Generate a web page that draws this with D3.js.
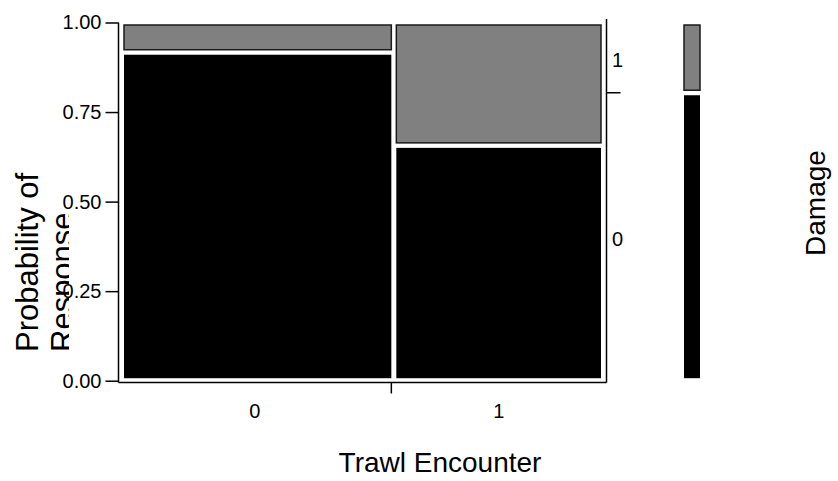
<!DOCTYPE html>
<html>
<head>
<meta charset="utf-8">
<script src="https://cdn.jsdelivr.net/npm/d3@7"></script>
<style>
  body { margin: 0; background: #fff; }
  text { font-family: "Liberation Sans", Arial, Helvetica, sans-serif; fill: #000; }
</style>
</head>
<body>
<div id="chart"></div>
<script>
// mosaic data
const encounterLevels = ["0", "1"]
const encounterShare = [0.565, 0.435]
const damageLevels = ["0", "1"]
const probDamage0 = [0.917, 0.657]
const yTicks = [0, 0.25, 0.5, 0.75, 1]
const damageColors = { "0": "#000000", "1": "#808080" }

const width = 838, height = 481

const svg = d3.select("#chart")
  .append("svg")
  .attr("width", width)
  .attr("height", height)

const y = d3.scaleLinear().domain([0, 1]).range([380.7, 22.5])
const x = d3.scaleLinear().domain([0, 1]).range([121.5, 603.5])
const inset = 2.5

// columns -> stacked cells
const starts = d3.cumsum([0, ...encounterShare])
const cells = []
encounterLevels.forEach((lvl, i) => {
  const x0 = starts[i], x1 = starts[i] + encounterShare[i]
  cells.push({ lvl, damage: damageLevels[0], x0, x1, y0: 0, y1: probDamage0[i] })
  cells.push({ lvl, damage: damageLevels[1], x0, x1, y0: probDamage0[i], y1: 1 })
})
const overall0 = d3.sum(encounterShare.map((s, i) => s * probDamage0[i]))

svg.append("g")
  .selectAll("rect")
  .data(cells)
  .join("rect")
  .attr("x", d => x(d.x0) + inset)
  .attr("width", d => x(d.x1) - x(d.x0) - 2 * inset)
  .attr("y", d => y(d.y1) + inset)
  .attr("height", d => y(d.y0) - y(d.y1) - 2 * inset)
  .attr("fill", d => damageColors[d.damage])
  .attr("stroke", d => d.damage === "1" ? "#1a1a1a" : "none")
  .attr("stroke-width", 1.5)

// left axis
const axisX = 118.5
const yAxis = svg.append("g")
  .attr("transform", `translate(${axisX},0)`)
  .call(d3.axisLeft(y).tickValues(yTicks).tickFormat(d3.format(".2f")).tickSize(13).tickSizeOuter(0).tickPadding(4))
yAxis.select(".domain").remove()
yAxis.selectAll("line").attr("stroke", "#000").attr("stroke-width", 1.5)
yAxis.selectAll("text").attr("font-size", 20).style("font-family", '"Liberation Sans", Arial, sans-serif')

const baseY = 382.5, rightX = 606.5
svg.append("line")
  .attr("x1", axisX).attr("x2", axisX).attr("y1", y(1)).attr("y2", baseY)
  .attr("stroke", "#000").attr("stroke-width", 1.5)

// bottom axis
const splitX = x(starts[1]) - inset
svg.append("line")
  .attr("x1", axisX).attr("x2", rightX).attr("y1", baseY).attr("y2", baseY)
  .attr("stroke", "#000").attr("stroke-width", 1.5)
svg.append("line")
  .attr("x1", splitX).attr("x2", splitX).attr("y1", baseY).attr("y2", baseY + 11)
  .attr("stroke", "#000").attr("stroke-width", 1.5)
const xEdges = [axisX, splitX, rightX]
svg.append("g")
  .selectAll("text")
  .data(encounterLevels)
  .join("text")
  .attr("x", (d, i) => (xEdges[i] + xEdges[i + 1]) / 2)
  .attr("y", 418)
  .attr("text-anchor", "middle")
  .attr("font-size", 20)
  .text(d => d)

// right axis with overall split
svg.append("line")
  .attr("x1", rightX).attr("x2", rightX).attr("y1", 19).attr("y2", baseY)
  .attr("stroke", "#000").attr("stroke-width", 1.5)
svg.append("line")
  .attr("x1", rightX).attr("x2", rightX + 14).attr("y1", y(overall0)).attr("y2", y(overall0))
  .attr("stroke", "#000").attr("stroke-width", 1.5)
const rightLabels = [
  { text: damageLevels[1], mid: (y(1) + y(overall0)) / 2 },
  { text: damageLevels[0], mid: (y(overall0) + y(0)) / 2 },
]
svg.append("g")
  .selectAll("text")
  .data(rightLabels)
  .join("text")
  .attr("x", 612)
  .attr("y", d => d.mid + 2)
  .attr("dy", "0.35em")
  .attr("font-size", 20)
  .text(d => d.text)

// overall damage bar
const legendCells = [
  { damage: damageLevels[0], y0: 0, y1: overall0 },
  { damage: damageLevels[1], y0: overall0, y1: 1 },
]
svg.append("g")
  .selectAll("rect")
  .data(legendCells)
  .join("rect")
  .attr("x", 684)
  .attr("width", 16)
  .attr("y", d => y(d.y1) + inset)
  .attr("height", d => y(d.y0) - y(d.y1) - 2 * inset)
  .attr("fill", d => damageColors[d.damage])
  .attr("stroke", d => d.damage === "1" ? "#1a1a1a" : "none")
  .attr("stroke-width", 1.5)

// titles
svg.append("text")
  .attr("x", 440)
  .attr("y", 472)
  .attr("text-anchor", "middle")
  .attr("font-size", 28)
  .text("Trawl Encounter")

svg.append("text")
  .attr("transform", "translate(825,203) rotate(-90)")
  .attr("text-anchor", "middle")
  .attr("font-size", 28)
  .text("Damage")

svg.append("clipPath")
  .attr("id", "ytitle-clip")
  .append("rect")
  .attr("x", 0).attr("y", 0).attr("width", 69).attr("height", height)

const yTitle = svg.append("g").attr("clip-path", "url(#ytitle-clip)")
;["Probability of", "Response"].forEach((line, i) => {
  yTitle.append("text")
    .attr("transform", `translate(${38 + i * 35},352) rotate(-90)`)
    .attr("text-anchor", "start")
    .attr("font-size", 31)
    .text(line)
})
</script>
</body>
</html>
